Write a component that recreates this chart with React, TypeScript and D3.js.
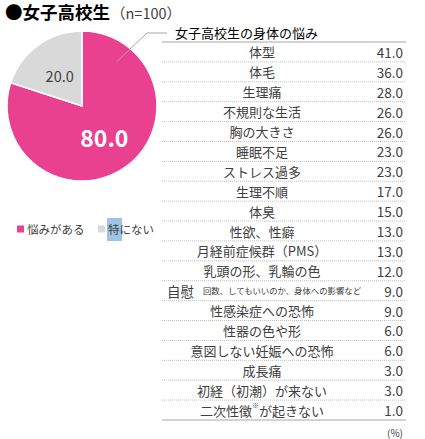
import React from 'react';
import * as d3 from 'd3';

const pieLabels = ['悩みがある', '特にない'];
const pieValues = [80.0, 20.0];
const pieColors = ['#E9408F', '#D9D9D9'];

const categories = [
  '体型', '体毛', '生理痛', '不規則な生活', '胸の大きさ', '睡眠不足', 'ストレス過多',
  '生理不順', '体臭', '性欲、性癖', '月経前症候群（PMS）', '乳頭の形、乳輪の色', '自慰',
  '性感染症への恐怖', '性器の色や形', '意図しない妊娠への恐怖', '成長痛',
  '初経（初潮）が来ない', '二次性徴が起きない',
];
const values = [41, 36, 28, 26, 26, 23, 23, 17, 15, 13, 13, 12, 9, 9, 6, 6, 3, 3, 1];

const W = 425;
const H = 439;
const FONT = '"Noto Sans CJK JP", "Noto Sans", sans-serif';
const TEXT = '#404040';

export default function App() {
  // pie
  const cx = 82;
  const cy = 106;
  const R = 75;
  const pie = d3.pie<number>().sort(null).value((d) => d);
  const arcs = pie(pieValues);
  const arc = d3.arc<d3.PieArcDatum<number>>().innerRadius(0).outerRadius(R);
  const labelArc = d3.arc<d3.PieArcDatum<number>>().innerRadius(38).outerRadius(38);

  // table rows
  const y = d3.scaleBand<string>().domain(categories).range([42, 420]);
  const x0 = 162;
  const x1 = 406;
  const labelX = 262;
  const valueX = 403;

  // leader from pie to table title
  const la = (38 * Math.PI) / 180;
  const lp = [cx + Math.sin(la) * 56, cy - Math.cos(la) * 56];

  return (
    <svg
      width={W}
      height={H}
      style={{ position: 'absolute', left: 0, top: 0, background: '#fff' }}
      fontFamily={FONT}
    >
      {/* heading */}
      <text x={5} y={19} fontSize={17.5} fontWeight="bold" fill="#000">
        ●女子高校生
        <tspan fontSize={14.5} fontWeight="normal" fill={TEXT} dx={1}>（n=100）</tspan>
      </text>

      {/* pie */}
      <g transform={`translate(${cx},${cy})`}>
        {arcs.map((a, i) => (
          <path key={i} d={arc(a) || ''} fill={pieColors[i]} stroke="#fff" strokeWidth={1.5} />
        ))}
        {arcs.map((a, i) => {
          const [lx, ly] = labelArc.centroid(a);
          return (
            <text
              key={i}
              x={lx}
              y={ly}
              textAnchor="middle"
              dominantBaseline="central"
              fontSize={i === 0 ? 23 : 14.5}
              fontWeight={i === 0 ? 'bold' : 'normal'}
              fill={i === 0 ? '#fff' : TEXT}
            >
              {pieValues[i].toFixed(1)}
            </text>
          );
        })}
      </g>
      <polyline
        points={`${lp[0]},${lp[1]} 147,33 167,33`}
        fill="none"
        stroke="#A6A6A6"
        strokeWidth={1}
      />

      {/* legend */}
      <rect x={107} y={218} width={15} height={23} fill="#9DC3E6" />
      {pieLabels.map((l, i) => (
        <g key={l} transform={`translate(${i === 0 ? 17 : 98},229)`}>
          <rect x={0} y={-3.5} width={7} height={7} fill={pieColors[i]} />
          <text x={10} y={0} dominantBaseline="central" fontSize={11.5} fill={TEXT}>{l}</text>
        </g>
      ))}

      {/* table */}
      <text x={175} y={38} fontSize={13} fill="#000">女子高校生の身体の悩み</text>
      <line x1={x0} x2={x1} y1={42} y2={42} stroke="#A6A6A6" strokeWidth={1} />
      {categories.map((c, i) => {
        const top = y(c) as number;
        const mid = top + y.bandwidth() / 2;
        return (
          <g key={c}>
            {i > 0 && (
              <line x1={x0} x2={x1} y1={top} y2={top} stroke="#BFBFBF" strokeWidth={1} strokeDasharray="1,1" />
            )}
            {c === '自慰' ? (
              <>
                <text x={167} y={mid} dominantBaseline="central" fontSize={13.5} fill={TEXT}>自慰</text>
                <text x={203} y={mid - 1} dominantBaseline="central" fontSize={8.4} fill={TEXT}>
                  回数、してもいいのか、身体への影響など
                </text>
              </>
            ) : c === '二次性徴が起きない' ? (
              <text x={labelX} y={mid} textAnchor="middle" dominantBaseline="central" fontSize={13} fill={TEXT}>
                二次性徴<tspan fontSize={7} dy={-5}>※</tspan><tspan dy={5}>が起きない</tspan>
              </text>
            ) : (
              <text x={labelX} y={mid} textAnchor="middle" dominantBaseline="central" fontSize={13} fill={TEXT}>
                {c}
              </text>
            )}
            <text x={valueX} y={mid} textAnchor="end" dominantBaseline="central" fontSize={13.5} fill={TEXT}>
              {values[i].toFixed(1)}
            </text>
          </g>
        );
      })}
      <line x1={x0} x2={x1} y1={420} y2={420} stroke="#A6A6A6" strokeWidth={1} />
      <text x={valueX} y={432} textAnchor="end" dominantBaseline="central" fontSize={10} fill={TEXT}>(%)</text>
    </svg>
  );
}
